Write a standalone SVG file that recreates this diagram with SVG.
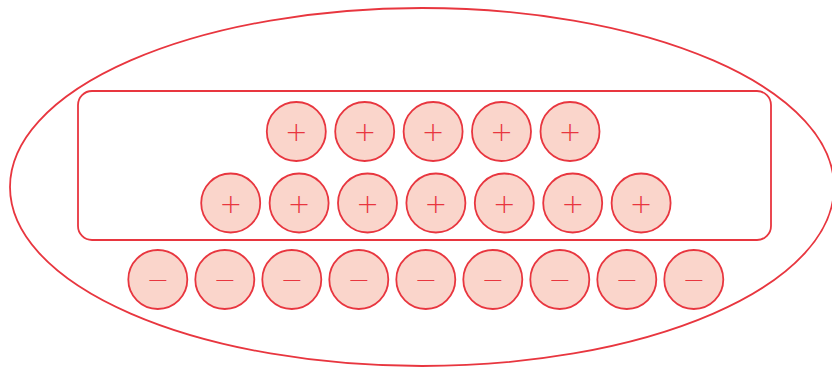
<svg xmlns="http://www.w3.org/2000/svg" width="832" height="367" viewBox="0 0 832 367">
<style>
.o{fill:none;stroke:#e8363f;stroke-width:1.8}
.c{fill:#fad5cb;stroke:#e8363f;stroke-width:1.8}
.t{fill:#e8363f;font-family:"DejaVu Sans",sans-serif;font-weight:200;font-size:27px;text-anchor:middle;dominant-baseline:central}
</style>
<defs>
<g id="p"><circle class="c" r="29.5"/><text class="t" y="0">+</text></g>
<g id="m"><circle class="c" r="29.5"/><text class="t" y="0">−</text></g>
</defs>
<g id="outer"><ellipse class="o" cx="422" cy="187" rx="412" ry="179"/></g>
<g id="box"><rect class="o" x="78" y="91" width="693" height="149" rx="14"/></g>
<g id="row1">
<use href="#p" x="296.3" y="131.5"/>
<use href="#p" x="364.7" y="131.5"/>
<use href="#p" x="433.1" y="131.5"/>
<use href="#p" x="501.5" y="131.5"/>
<use href="#p" x="570" y="131.5"/>
</g>
<g id="row2">
<use href="#p" x="230.7" y="203"/>
<use href="#p" x="299.1" y="203"/>
<use href="#p" x="367.5" y="203"/>
<use href="#p" x="435.9" y="203"/>
<use href="#p" x="504.3" y="203"/>
<use href="#p" x="572.7" y="203"/>
<use href="#p" x="641.1" y="203"/>
</g>
<g id="row3">
<use href="#m" x="157.8" y="279.5"/>
<use href="#m" x="224.8" y="279.5"/>
<use href="#m" x="291.8" y="279.5"/>
<use href="#m" x="358.8" y="279.5"/>
<use href="#m" x="425.8" y="279.5"/>
<use href="#m" x="492.8" y="279.5"/>
<use href="#m" x="559.8" y="279.5"/>
<use href="#m" x="626.8" y="279.5"/>
<use href="#m" x="693.8" y="279.5"/>
</g>
</svg>
